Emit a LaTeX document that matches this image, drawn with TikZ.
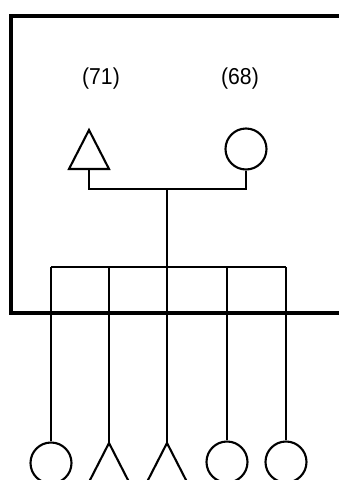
\documentclass[tikz,border=0pt]{standalone}
\usepackage{fontspec}
\setmainfont{Liberation Sans}
\begin{document}
\begin{tikzpicture}[x=1pt,y=-1pt,
  thin line/.style={line width=2.1pt, line cap=butt},
  frame line/.style={line width=3.6pt},
  ring/.style={circle, draw, line width=2.1pt, minimum size=41pt, inner sep=0pt},
  label/.style={font=\fontsize{23}{23}\selectfont, inner sep=0pt, xscale=0.92},
  tri/.style={line width=2.1pt, line join=miter}]
\useasboundingbox (0,0) rectangle (339,480);
\clip (0,0) rectangle (339,480);
% frame
\draw[frame line] (340,16) -- (11,16) -- (11,313) -- (340,313);
% labels
\node[label] (l71) at (101,79) {(71)};
\node[label] (l68) at (240,79) {(68)};
% top symbols
\coordinate (t71) at (89,169);
\draw[tri] (t71) ++(-20,0) -- ++(20,-39) -- ++(20,39) -- cycle;
\node[ring] (c68) at (246,149) {};
% junction
\coordinate (j1) at (167,189);
\coordinate (j2) at (167,267);
\draw[thin line] (t71) |- (j1) -| (c68.south);
\draw[thin line] (j1) -- (j2);
% bus
\coordinate (b1) at (51,267);
\coordinate (b2) at (109,267);
\coordinate (b3) at (167,267);
\coordinate (b4) at (227,267);
\coordinate (b5) at (286,267);
\draw[thin line] (b1) -- (b5);
% bottom symbols
\node[ring] (d1) at (51,463) {};
\coordinate (d2) at (109,443);
\coordinate (d3) at (167,443);
\node[ring] (d4) at (227,462) {};
\node[ring] (d5) at (286,462) {};
\draw[thin line] (b1) -- (d1.north);
\draw[thin line] (b2) -- (d2);
\draw[thin line] (b3) -- (d3);
\draw[thin line] (b4) -- (d4.north);
\draw[thin line] (b5) -- (d5.north);
\draw[tri] (d2) ++(-20,39) -- ++(20,-39) -- ++(20,39);
\draw[tri] (d3) ++(-20,39) -- ++(20,-39) -- ++(20,39);
\end{tikzpicture}
\end{document}
